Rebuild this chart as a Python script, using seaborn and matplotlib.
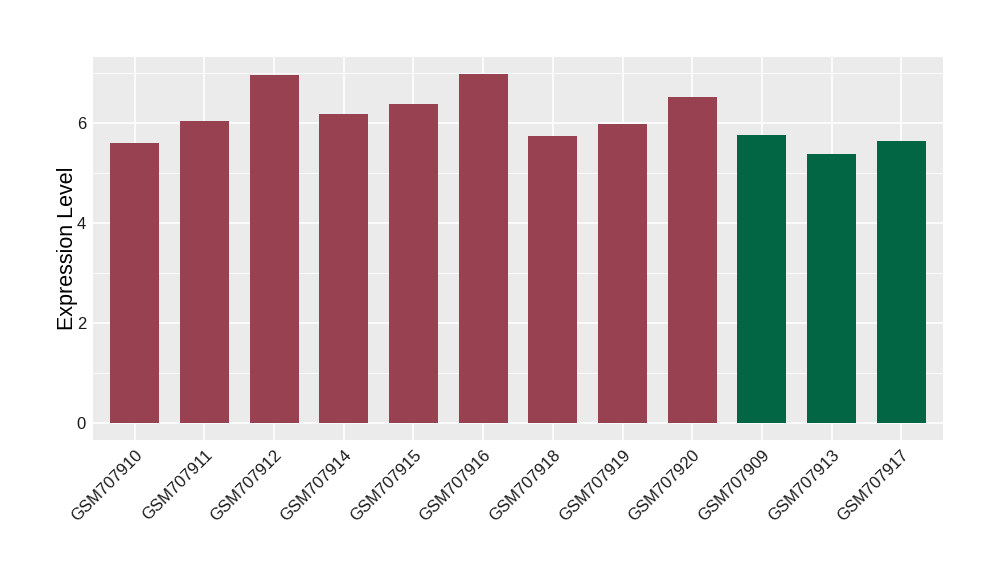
import pandas as pd
import matplotlib
matplotlib.use('Agg')
import matplotlib.pyplot as plt
import seaborn as sns

samples = ['GSM707910', 'GSM707911', 'GSM707912', 'GSM707914', 'GSM707915', 'GSM707916',
           'GSM707918', 'GSM707919', 'GSM707920', 'GSM707909', 'GSM707913', 'GSM707917']
values = [5.60, 6.04, 6.96, 6.18, 6.38, 6.98, 5.74, 5.98, 6.52, 5.76, 5.38, 5.64]
groups = ['A'] * 9 + ['B'] * 3
colors = {'A': '#984150', 'B': '#026644'}

df = pd.DataFrame({'sample': samples, 'value': values, 'group': groups})

sns.set_style('darkgrid', {'axes.facecolor': '#EBEBEB', 'grid.color': 'white'})
plt.rcParams['font.family'] = ['Liberation Sans', 'DejaVu Sans']

fig = plt.figure(figsize=(10, 5.8), dpi=100)
ax = fig.add_axes([0.093, 0.2414, 0.85, 0.6603])

sns.barplot(data=df, x='sample', y='value', hue='group', palette=colors,
            dodge=False, width=0.7, saturation=1, legend=False, linewidth=0, ax=ax)

ax.set_ylim(-0.349, 7.329)
ax.set_xlim(-0.6, 11.6)
ax.set_yticks([0, 2, 4, 6])
ax.set_yticks([1, 3, 5, 7], minor=True)
ax.grid(which='major', color='white', linewidth=1.2)
ax.grid(which='minor', color='white', linewidth=0.6)
ax.set_axisbelow(True)
for s in ax.spines.values():
    s.set_visible(False)

ax.tick_params(axis='both', which='major', length=3, color='#333333', labelsize=12,
               labelcolor='#1a1a1a', pad=2)
ax.tick_params(axis='both', which='minor', length=0)
plt.setp(ax.get_xticklabels(), rotation=45, ha='right', rotation_mode='anchor')

ax.set_xlabel('')
ax.set_ylabel('Expression Level', fontsize=15.5, color='black', labelpad=-1)

fig.savefig('out.png', dpi=100)
